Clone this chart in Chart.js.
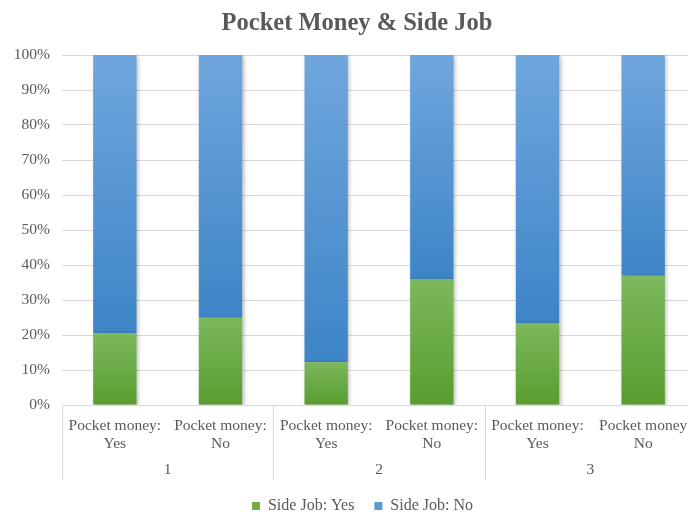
<!DOCTYPE html>
<html>
<head>
<meta charset="utf-8">
<script src="https://cdn.jsdelivr.net/npm/chart.js@4/dist/chart.umd.min.js"></script>
<style>
  html, body { margin: 0; padding: 0; background: #fff; overflow: hidden; }
  #wrap { width: 716px; height: 512px; overflow: hidden; }
</style>
</head>
<body>
<div id="wrap"><canvas id="chart" width="716" height="524"></canvas></div>
<script>
const FONT = '"Liberation Serif", "Times New Roman", serif';
const TEXT = "#595959";

const title = "Pocket Money & Side Job";
// bars, two per group
const labels = [
  ["Pocket money:", "Yes"], ["Pocket money:", "No"],
  ["Pocket money:", "Yes"], ["Pocket money:", "No"],
  ["Pocket money:", "Yes"], ["Pocket money", "No"],
];
const groups = ["1", "2", "3"];
const sideJobYes = [20.5, 24.9, 12.2, 36.0, 23.3, 36.9];
const sideJobNo = sideJobYes.map((v) => 100 - v);

const SOLID = ["#70ad47", "#5b9bd5"];
const GRAD = [["#7cb85c", "#5a9c2f"], ["#70a6de", "#3d85c6"]];

// vertical gradient over each stacked segment
function segFill(ctx) {
  const ds = ctx.datasetIndex;
  const chart = ctx.chart;
  if (!chart.chartArea || ctx.dataIndex == null) return SOLID[ds];
  const y = chart.scales.y;
  const lo = ds === 0 ? 0 : sideJobYes[ctx.dataIndex];
  const hi = ds === 0 ? sideJobYes[ctx.dataIndex] : 100;
  const g = chart.ctx.createLinearGradient(0, y.getPixelForValue(hi), 0, y.getPixelForValue(lo));
  g.addColorStop(0, GRAD[ds][0]);
  g.addColorStop(1, GRAD[ds][1]);
  return g;
}

// soft shadow under the bars
const barShadow = {
  id: "barShadow",
  beforeDatasetsDraw(chart) {
    const c = chart.ctx;
    c.save();
    c.shadowColor = "rgba(0,0,0,0.28)";
    c.shadowBlur = 4;
    c.shadowOffsetX = 1.5;
    c.shadowOffsetY = 1;
  },
  afterDatasetsDraw(chart) { chart.ctx.restore(); },
};

// title and legend are centred on the whole chart box, not the layout box
const centring = {
  id: "centring",
  afterLayout(chart) {
    chart.legend.left += 10;
    chart.legend.right += 10;
  },
  afterDraw(chart) {
    const c = chart.ctx;
    c.save();
    c.fillStyle = TEXT;
    c.font = "bold 24.5px " + FONT;
    c.textAlign = "center";
    c.textBaseline = "alphabetic";
    c.fillText(title, 357, 30);
    c.restore();
  },
};

// second category row: group separators and group names
const groupAxis = {
  id: "groupAxis",
  afterDraw(chart) {
    const x = chart.scales.x, area = chart.chartArea, c = chart.ctx;
    const top = area.bottom, bottom = area.bottom + 75;
    const px = (i) => x.getPixelForValue(i);
    const half = (px(1) - px(0)) / 2;
    c.save();
    c.strokeStyle = "#d9d9d9";
    c.lineWidth = 1;
    for (let g = 0; g <= groups.length; g++) {
      const xx = Math.round(px(g * 2) - half) + 0.5;
      c.beginPath(); c.moveTo(xx, top); c.lineTo(xx, bottom); c.stroke();
    }
    c.fillStyle = TEXT;
    c.font = "15.5px " + FONT;
    c.textAlign = "center";
    c.textBaseline = "middle";
    groups.forEach((name, g) => {
      c.fillText(name, (px(g * 2) + px(g * 2 + 1)) / 2, area.bottom + 65);
    });
    c.restore();
  },
};

new Chart(document.getElementById("chart"), {
  type: "bar",
  data: {
    labels,
    datasets: [
      { label: "Side Job: Yes", data: sideJobYes, backgroundColor: segFill },
      { label: "Side Job: No", data: sideJobNo, backgroundColor: segFill },
    ],
  },
  options: {
    responsive: false,
    animation: false,
    layout: { padding: { left: 9, right: 20, top: 55, bottom: 0 } },
    datasets: { bar: { categoryPercentage: 1, barPercentage: 0.41, borderWidth: 0 } },
    scales: {
      x: {
        stacked: true,
        grid: { display: false },
        border: { display: false },
        ticks: { color: TEXT, font: { family: FONT, size: 15.5, lineHeight: 1.16 }, maxRotation: 0, autoSkip: false, padding: 4 },
        afterFit(scale) { scale.height = 73; },
      },
      y: {
        stacked: true,
        min: 0, max: 100,
        grid: { color: "#d9d9d9", drawTicks: false },
        border: { display: false },
        ticks: { stepSize: 10, color: TEXT, padding: 12, font: { family: FONT, size: 15.5 }, callback: (v) => v + "%" },
        afterFit(scale) { scale.width = 53; },
      },
    },
    plugins: {
      title: { display: false },
      legend: {
        position: "bottom",
        labels: {
          color: TEXT,
          font: { family: FONT, size: 16 },
          boxWidth: 8, boxHeight: 8, padding: 20,
          generateLabels(chart) {
            return Chart.defaults.plugins.legend.labels.generateLabels(chart).map((l) => ({
              ...l, fillStyle: SOLID[l.datasetIndex], strokeStyle: SOLID[l.datasetIndex], lineWidth: 0,
            }));
          },
        },
      },
      tooltip: { enabled: false },
    },
  },
  plugins: [barShadow, centring, groupAxis],
});
</script>
</body>
</html>
